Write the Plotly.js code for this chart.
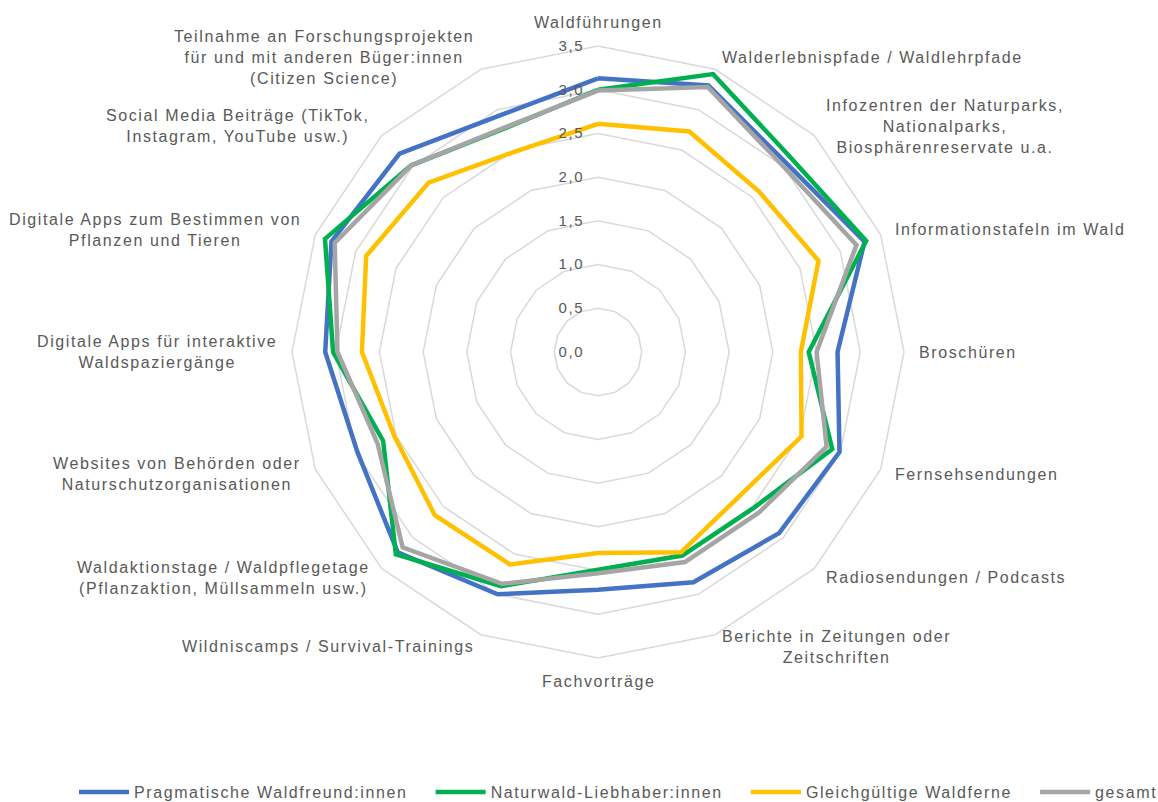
<!DOCTYPE html>
<html>
<head>
<meta charset="utf-8">
<script src="https://cdn.plot.ly/plotly-3.0.1.min.js"></script>
<style>
html,body{margin:0;padding:0;background:#fff;}
#chart{width:1158px;height:802px;}
text{letter-spacing:1.6px;}
</style>
</head>
<body>
<div id="chart"></div>
<script>
const categories = [
  "Waldführungen",
  "Walderlebnispfade / Waldlehrpfade",
  "Infozentren der Naturparks, Nationalparks, Biosphärenreservate u.a.",
  "Informationstafeln im Wald",
  "Broschüren",
  "Fernsehsendungen",
  "Radiosendungen / Podcasts",
  "Berichte in Zeitungen oder Zeitschriften",
  "Fachvorträge",
  "Wildniscamps / Survival-Trainings",
  "Waldaktionstage / Waldpflegetage (Pflanzaktion, Müllsammeln usw.)",
  "Websites von Behörden oder Naturschutzorganisationen",
  "Digitale Apps für interaktive Waldspaziergänge",
  "Digitale Apps zum Bestimmen von Pflanzen und Tieren",
  "Social Media Beiträge (TikTok, Instagram, YouTube usw.)",
  "Teilnahme an Forschungsprojekten für und mit anderen Büger:innen (Citizen Science)"
];
const tickLabels = [
  "Waldführungen",
  "Walderlebnispfade / Waldlehrpfade",
  "Infozentren der Naturparks,<br>Nationalparks,<br>Biosphärenreservate u.a.",
  "Informationstafeln im Wald",
  "Broschüren",
  "Fernsehsendungen",
  "Radiosendungen / Podcasts",
  "Berichte in Zeitungen oder<br>Zeitschriften",
  "Fachvorträge",
  "Wildniscamps / Survival-Trainings",
  "Waldaktionstage / Waldpflegetage<br>(Pflanzaktion, Müllsammeln usw.)",
  "Websites von Behörden oder<br>Naturschutzorganisationen",
  "Digitale Apps für interaktive<br>Waldspaziergänge",
  "Digitale Apps zum Bestimmen von<br>Pflanzen und Tieren",
  "Social Media Beiträge (TikTok,<br>Instagram, YouTube usw.)",
  "Teilnahme an Forschungsprojekten<br>für und mit anderen Büger:innen<br>(Citizen Science)"
];
const seriesNames = ["Pragmatische Waldfreund:innen", "Naturwald-Liebhaber:innen", "Gleichgültige Waldferne", "gesamt"];
const pragmatische = [3.13, 3.30, 3.05, 3.30, 2.74, 2.99, 2.93, 2.85, 2.72, 3.00, 3.24, 2.98, 3.12, 3.30, 3.21, 2.93];
const naturwald    = [3.00, 3.44, 3.13, 3.32, 2.41, 2.90, 2.52, 2.52, 2.49, 2.90, 3.27, 2.66, 3.03, 3.38, 3.02, 2.77];
const gleichgueltig= [2.61, 2.73, 2.60, 2.73, 2.32, 2.52, 2.31, 2.48, 2.30, 2.63, 2.64, 2.52, 2.70, 2.87, 2.74, 2.48];
const gesamt       = [2.99, 3.28, 3.00, 3.20, 2.50, 2.83, 2.60, 2.60, 2.53, 2.87, 3.16, 2.73, 2.98, 3.26, 3.02, 2.78];
const radialTicks = [0, 0.5, 1, 1.5, 2, 2.5, 3, 3.5];

const W = 1158, H = 802;
const CX = 598, CY = 352, R = 306, LABEL_GAP = 13;
const colors = ["#4472C4", "#00B050", "#FFC000", "#A5A5A5"];
const allSeries = [pragmatische, naturwald, gleichgueltig, gesamt];
const FONT = "Liberation Sans, Arial, sans-serif";
const TXT = "#595959";
const GRID = "#d9d9d9";
const PAD = "\u00a0\u00a0\u00a0";

const traces = allSeries.map((vals, i) => ({
  type: "scatterpolar",
  mode: "lines",
  name: seriesNames[i] + (i < allSeries.length - 1 ? PAD : ""),
  r: vals.concat([vals[0]]),
  theta: categories.concat([categories[0]]),
  line: {color: colors[i], width: 4.5},
  hoverinfo: "skip"
}));

// category labels placed just outside the outer ring, Excel-style
const annotations = tickLabels.map((txt, i) => {
  const ang = i * 2 * Math.PI / categories.length;
  const s = Math.sin(ang), c = Math.cos(ang);
  const px = CX + (R + LABEL_GAP) * s;
  const py = CY - (R + LABEL_GAP) * c;
  const side = Math.abs(s) < 0.1;
  return {
    xref: "paper", yref: "paper",
    x: px / W, y: 1 - py / H,
    text: txt, showarrow: false, align: "center",
    xanchor: side ? "center" : (s > 0 ? "left" : "right"),
    yanchor: side ? (c > 0 ? "bottom" : "top") : "middle",
    font: {family: FONT, size: 16, color: TXT}
  };
});

const layout = {
  width: W, height: H,
  margin: {l: 0, r: 0, t: 0, b: 0, autoexpand: false},
  paper_bgcolor: "#fff",
  separators: ", ",
  font: {family: FONT, size: 16, color: TXT},
  showlegend: true,
  legend: {
    orientation: "h", x: 74 / W, xanchor: "left", y: 1 - 792 / H, yanchor: "middle",
    font: {family: FONT, size: 16, color: TXT},
    itemwidth: 50,
    traceorder: "normal"
  },
  annotations: annotations,
  polar: {
    domain: {x: [(CX - R) / W, (CX + R) / W], y: [1 - (CY + R) / H, 1 - (CY - R) / H]},
    gridshape: "linear",
    bgcolor: "#fff",
    angularaxis: {
      type: "category",
      rotation: 90,
      direction: "clockwise",
      showticklabels: false,
      showgrid: false,
      showline: true,
      linecolor: GRID,
      linewidth: 1.5,
      ticks: ""
    },
    radialaxis: {
      range: [0, 3.5],
      tickmode: "array",
      tickvals: radialTicks,
      tickformat: ".1f",
      angle: 90,
      tickangle: 90,
      side: "counterclockwise",
      showline: false,
      showgrid: true,
      gridcolor: GRID,
      gridwidth: 1.5,
      ticks: "outside",
      ticklen: 8,
      tickcolor: "rgba(0,0,0,0)",
      tickfont: {family: FONT, size: 15, color: TXT}
    }
  }
};

Plotly.newPlot("chart", traces, layout, {displayModeBar: false, staticPlot: true});
</script>
</body>
</html>
